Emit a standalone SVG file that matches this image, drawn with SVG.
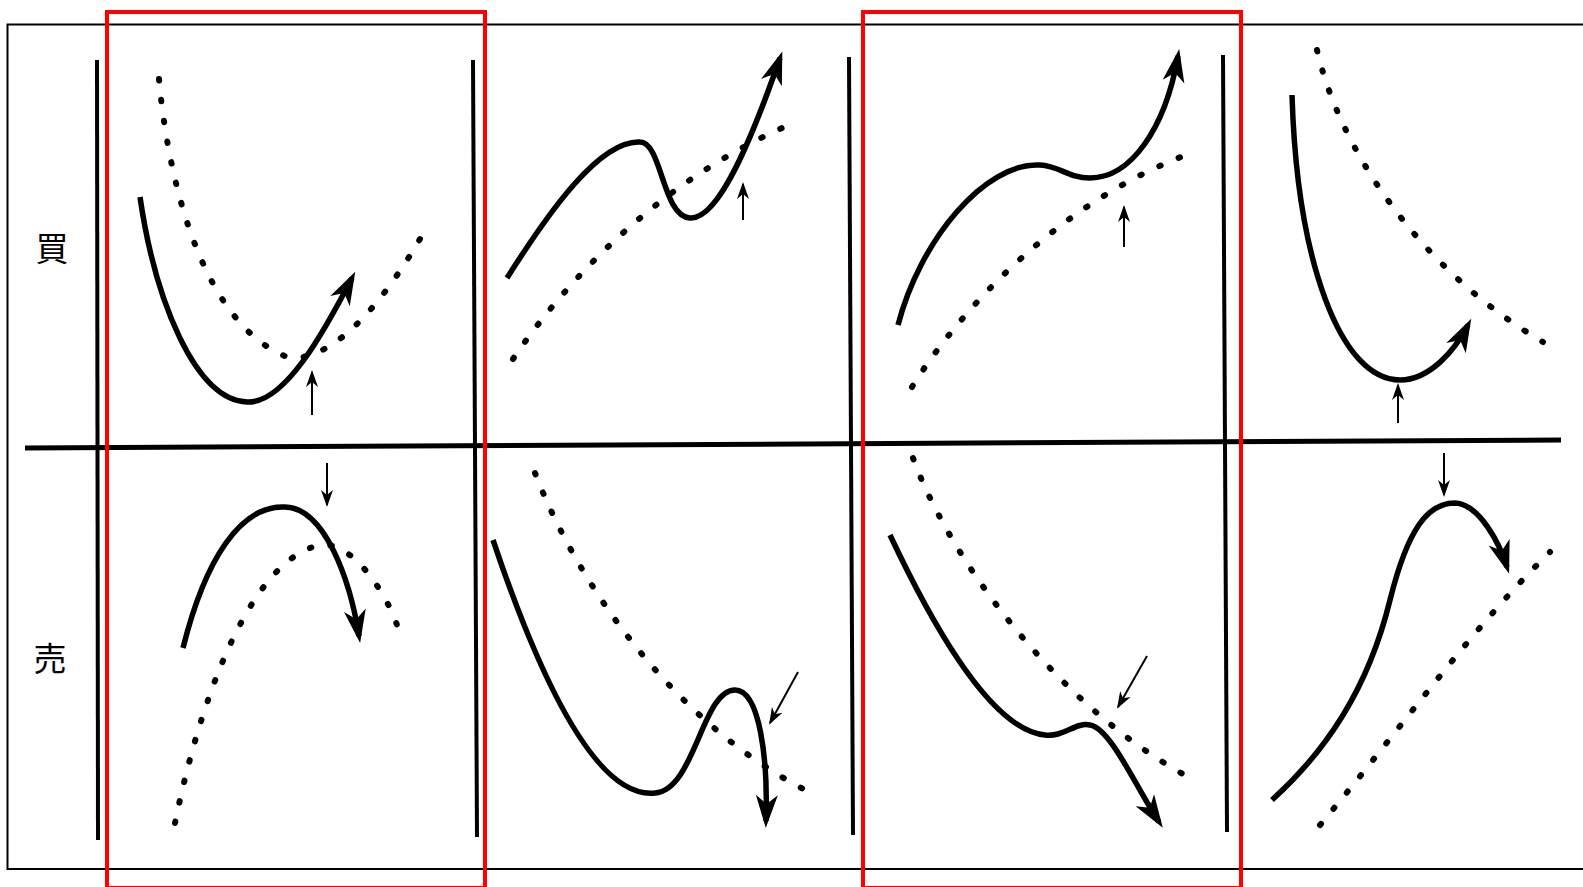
<svg xmlns="http://www.w3.org/2000/svg" width="1583" height="887" viewBox="0 0 1583 887">
<defs>
<marker id="big" markerUnits="userSpaceOnUse" markerWidth="40" markerHeight="30" viewBox="-30 -15 40 30" refX="0" refY="0" orient="auto" overflow="visible">
<path d="M7,0 L-26,-11 L-17,0 L-26,11 Z" fill="#000"/>
</marker>
<marker id="small" markerUnits="userSpaceOnUse" markerWidth="20" markerHeight="14" viewBox="-16 -7 20 14" refX="0" refY="0" orient="auto" overflow="visible">
<path d="M2,0 L-15,-6 L-10,0 L-15,6 Z" fill="#000"/>
</marker>
</defs>
<style>
.frame{fill:none;stroke:#000;stroke-width:2}
.red{fill:none;stroke:#ff0000;stroke-width:4}
.axis{stroke:#000;stroke-width:4;fill:none}
.haxis{stroke:#000;stroke-width:5;fill:none}
.solid{fill:none;stroke:#000;stroke-width:5.5;stroke-linecap:butt;marker-end:url(#big)}
.dots{fill:none;stroke:#000;stroke-width:6;stroke-linecap:round;stroke-dasharray:1.5 19.5}
.ptr{fill:none;stroke:#000;stroke-width:2;marker-end:url(#small)}
.lbl{font-family:"Noto Sans CJK JP","Noto Sans CJK SC",sans-serif;font-size:33px;fill:#000}
</style>
<rect class="frame" x="7.5" y="24.5" width="1590" height="844.5"/>
<g id="axes">
<line class="haxis" x1="25" y1="448" x2="1561" y2="440"/>
<line class="axis" x1="97" y1="60" x2="98" y2="840"/>
<line class="axis" x1="473" y1="60" x2="477" y2="837"/>
<line class="axis" x1="849" y1="57" x2="853" y2="835"/>
<line class="axis" x1="1223" y1="55" x2="1227" y2="832"/>
</g>
<g id="labels">
<text class="lbl" x="52" y="261" text-anchor="middle">買</text>
<text class="lbl" x="50" y="671" text-anchor="middle">売</text>
</g>
<g id="panel1-buy">
<path class="dots" d="M159,79 C170,200 210,330 290,358 C340,360 390,290 420,239"/>
<path class="solid" d="M140,197 C155,300 195,400 247,402 C285,404 325,330 352,278"/>
<line class="ptr" x1="312" y1="415" x2="312" y2="372"/>
</g>
<g id="panel1-sell">
<path class="dots" d="M175,823 C200,700 250,560 320,545 C350,540 385,590 397,625"/>
<path class="solid" d="M183,648 C205,560 240,505 285,507 C325,508 350,580 359,636"/>
<line class="ptr" x1="327" y1="463" x2="327" y2="505"/>
</g>
<g id="panel2-buy">
<path class="dots" d="M513,359 C580,260 680,170 796,122"/>
<path class="solid" d="M507,278 C550,210 600,140 640,142 C662,142 662,216 690,218 C720,220 755,130 780,58"/>
<line class="ptr" x1="743" y1="220" x2="743" y2="184"/>
</g>
<g id="panel2-sell">
<path class="dots" d="M535,473 C580,590 680,730 817,796"/>
<path class="solid" d="M493,540 C530,650 590,800 655,793 C695,790 702,690 735,690 C760,690 768,760 766,821"/>
<line class="ptr" x1="798" y1="672" x2="770" y2="723"/>
</g>
<g id="panel3-buy">
<path class="dots" d="M912,387 C960,310 1060,200 1194,152"/>
<path class="solid" d="M898,325 C920,240 985,162 1040,165 C1060,166 1068,178 1090,178 C1130,178 1165,130 1178,56"/>
<line class="ptr" x1="1124" y1="247" x2="1124" y2="207"/>
</g>
<g id="panel3-sell">
<path class="dots" d="M913,458 C950,560 1060,710 1194,780"/>
<path class="solid" d="M890,535 C930,620 990,730 1045,735 C1065,737 1075,722 1090,725 C1110,728 1135,785 1159,822"/>
<line class="ptr" x1="1147" y1="656" x2="1118" y2="707"/>
</g>
<g id="panel4-buy">
<path class="dots" d="M1317,50 C1340,150 1420,270 1543,342"/>
<path class="solid" d="M1292,95 C1297,260 1340,380 1400,380 C1430,380 1455,350 1468,325"/>
<line class="ptr" x1="1398" y1="423" x2="1398" y2="385"/>
</g>
<g id="panel4-sell">
<path class="dots" d="M1320,825 C1400,730 1470,630 1550,552"/>
<path class="solid" d="M1272,800 C1325,752 1368,690 1390,600 C1408,528 1428,503 1455,503 C1480,504 1500,545 1507,567"/>
<line class="ptr" x1="1444" y1="453" x2="1444" y2="495"/>
</g>
<g id="highlights">
<rect class="red" x="107" y="12" width="378" height="876"/>
<rect class="red" x="863" y="12" width="378" height="876"/>
</g>
</svg>
